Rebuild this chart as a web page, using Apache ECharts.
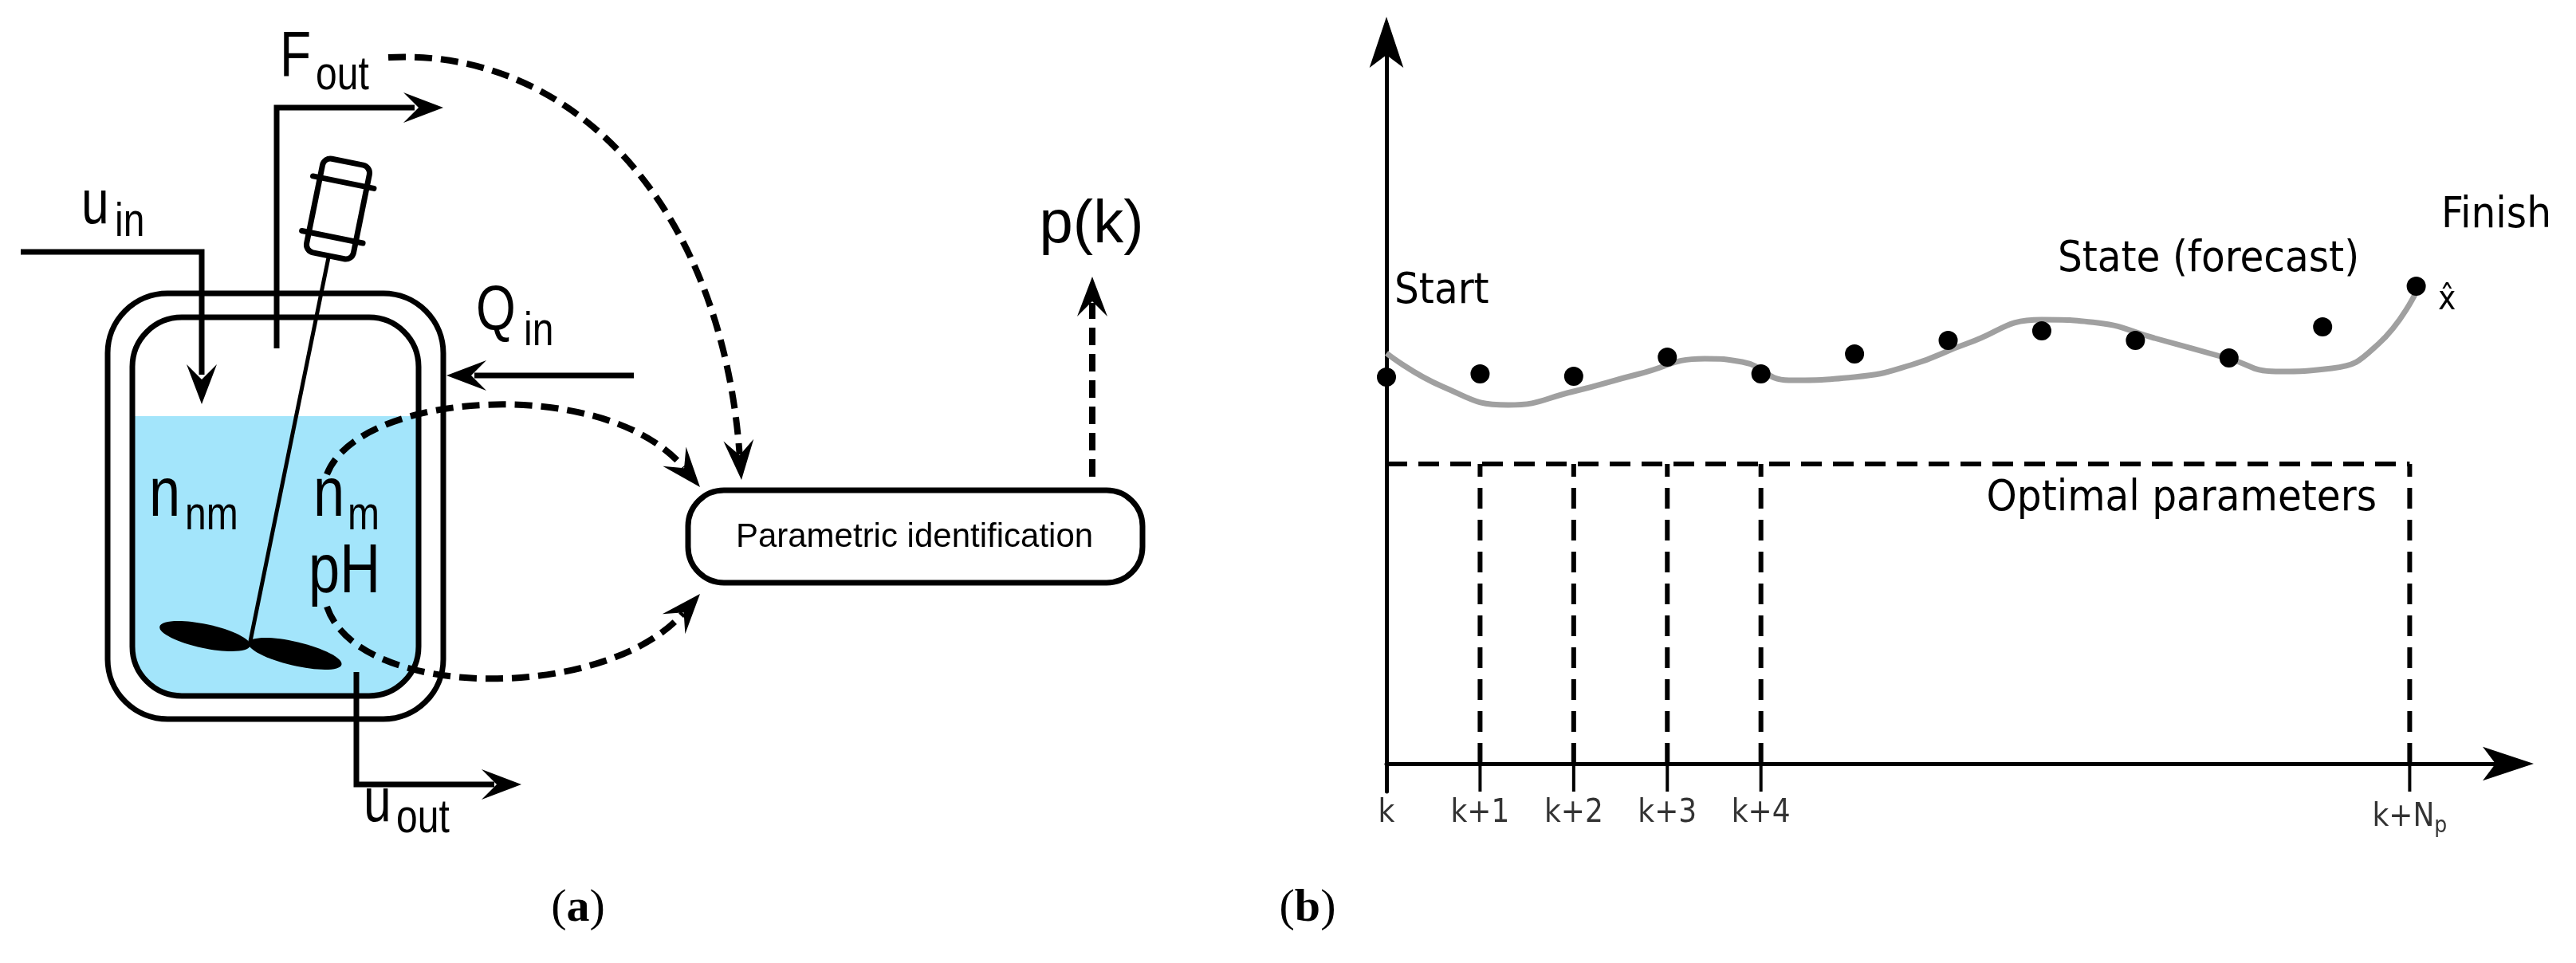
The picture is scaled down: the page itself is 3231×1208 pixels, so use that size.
<!DOCTYPE html>
<html><head><meta charset="utf-8">
<script src="https://cdn.jsdelivr.net/npm/echarts@6/dist/echarts.min.js"></script>
<style>html,body{margin:0;padding:0;background:#fff}#c{width:3231px;height:1208px}</style>
</head><body><div id="c"></div>
<script>
// ---- panel (b) data ----
const tickPos = [0, 1, 2, 3, 4, 10.93];
const tickLabels = ['k', 'k+1', 'k+2', 'k+3', 'k+4', 'k+N_p'];
const dotX = [0, 1, 2, 3, 4, 5, 6, 7, 8, 9, 10, 11];
const dotY = [485, 489, 486, 510, 489, 514, 531, 543, 531, 509, 548, 599];
const curveX = [0, 0.6, 1.3, 2, 2.7, 3.4, 3.8, 4.3, 5, 5.6, 6.2, 7.0, 7.6, 8.2, 9, 9.5, 10.1, 10.6, 11];
const curveY = [515, 473, 450, 467, 489, 508, 504, 481, 485, 500, 527, 557, 553, 534, 508, 492, 496, 527, 592];
const paramLevel = 376;
const tickLen = 35;

const chart = echarts.init(document.getElementById('c'));
const series = [];
series.push({type:'line', data: curveX.map((x,i)=>[x,curveY[i]]), smooth:0.5, symbol:'none',
  lineStyle:{color:'#a0a0a0', width:7}, z:2});
series.push({type:'scatter', data: dotX.map((x,i)=>[x,dotY[i]]), symbolSize:24, itemStyle:{color:'#000', opacity:1}, z:3});
series.push({type:'line', data:[[0,paramLevel],[tickPos[tickPos.length-1],paramLevel]], symbol:'none',
  lineStyle:{color:'#000', width:6, type:[26,14]}});
tickPos.forEach((x,i)=>{
  if(i>0) series.push({type:'line', data:[[x,0],[x,paramLevel]], symbol:'none', lineStyle:{color:'#000', width:6, type:[26,14]}});
  series.push({type:'line', data:[[x,0],[x,-tickLen]], symbol:'none', lineStyle:{color:'#000', width:4}});
});
series.push({type:'scatter', symbolSize:0, data: tickPos.map((x,i)=>({value:[x,-tickLen], name:tickLabels[i]})),
  label:{show:true, position:'bottom', distance:8, formatter:p=>{const s=p.name.split('_'); return s.length>1? s[0]+'{s|'+s[1]+'}' : s[0];},
    fontFamily:'DejaVu Sans Condensed', fontSize:40, color:'#000',
    rich:{s:{fontFamily:'DejaVu Sans Condensed', fontSize:28, color:'#000', padding:[22,0,0,0]}}}});

// ---- panel (a) graphics ----
const LW = 7;
function arrow(tx,ty,ang){
  const L=50, W=19, dx=Math.cos(ang), dy=Math.sin(ang), nx=-dy, ny=dx;
  return {type:'polygon', shape:{points:[[tx,ty],[tx-L*dx+W*nx,ty-L*dy+W*ny],[tx-0.62*L*dx,ty-0.62*L*dy],[tx-L*dx-W*nx,ty-L*dy-W*ny]]},
    style:{fill:'#000'}, z:10};
}
function pline(pts,dash){return {type:'polyline', shape:{points:pts}, style:{stroke:'#000', lineWidth:dash?8:LW, fill:null, lineDash:dash?[22,11]:null, lineJoin:'miter'}, z:9};}
function txt(s,x,base,size,fam,align,sx){return {type:'text', x:x, y:base-0.35*size, scaleX:sx||1, style:{text:s, font:size+'px "'+(fam||'Liberation Sans')+'"', fill:'#000', align:align||'left', verticalAlign:'middle'}, z:12};}
function ntxt(s,x,base,size){return txt(s,x,base,size,'Liberation Sans','left',0.8);}
function bez(x1,y1,c1x,c1y,c2x,c2y,x2,y2){
  const a = Math.atan2(y2-c2y, x2-c2x);
  return [{type:'bezierCurve', shape:{x1,y1,cpx1:c1x,cpy1:c1y,cpx2:c2x,cpy2:c2y,x2:x2-32*Math.cos(a),y2:y2-32*Math.sin(a)},
    style:{stroke:'#000', lineWidth:8, lineDash:[22,11], fill:null}, z:9}, arrow(x2,y2,a)];
}
const g = [];
g.push({type:'rect', shape:{x:166,y:522,width:359,height:351,r:[0,0,62,62]}, style:{fill:'#a3e5fb'}, z:1});
g.push({type:'rect', shape:{x:135,y:368,width:421,height:534,r:75}, style:{stroke:'#000', lineWidth:LW, fill:null}, z:5});
g.push({type:'rect', shape:{x:166,y:398,width:359,height:475,r:62}, style:{stroke:'#000', lineWidth:LW, fill:null}, z:5});
g.push(pline([[26,316],[253,316],[253,470]])); g.push(arrow(253,507,Math.PI/2));
g.push(pline([[347,437],[347,135],[520,135]])); g.push(arrow(556,135,0));
g.push(pline([[795,471],[595,471]])); g.push(arrow(560,471,Math.PI));
g.push(pline([[447,843],[447,984],[620,984]])); g.push(arrow(654,984,0));
g.push(pline([[1370,598],[1370,380]],true)); g.push(arrow(1370,347,-Math.PI/2));
g.push({type:'group', x:424, y:262, rotation:-0.2, z:8, children:[
  {type:'rect', shape:{x:-30,y:-60,width:60,height:120,r:10}, style:{stroke:'#000', lineWidth:LW, fill:'#fff'}},
  {type:'line', shape:{x1:-39,y1:-34,x2:39,y2:-34}, style:{stroke:'#000', lineWidth:LW, lineCap:'round'}},
  {type:'line', shape:{x1:-39,y1:36,x2:39,y2:36}, style:{stroke:'#000', lineWidth:LW, lineCap:'round'}}
]});
g.push({type:'line', shape:{x1:412,y1:323,x2:313,y2:809}, style:{stroke:'#000', lineWidth:5}, z:7});
g.push({type:'ellipse', x:257, y:798, rotation:-0.21, shape:{cx:0,cy:0,rx:58,ry:15}, style:{fill:'#000'}, z:7});
g.push({type:'ellipse', x:370, y:820, rotation:-0.23, shape:{cx:0,cy:0,rx:60,ry:15}, style:{fill:'#000'}, z:7});
g.push({type:'rect', shape:{x:863,y:615,width:570,height:116,r:45}, style:{stroke:'#000', lineWidth:LW, fill:'#fff'}, z:5});
g.push(txt('Parametric identification',1147,689,42,'Liberation Sans','center'));
bez(487,72, 720,60, 905,260, 930,602).forEach(e=>g.push(e));
bez(410,595, 450,490, 760,470, 878,611).forEach(e=>g.push(e));
bez(410,761, 450,880, 760,880, 878,745).forEach(e=>g.push(e));
g.push(ntxt('u',102,286,78)); g.push(ntxt('in',144,300,60));
g.push(ntxt('F',351,101,80)); g.push(ntxt('out',396,116,60));
g.push(ntxt('Q',597,420,80)); g.push(ntxt('in',657,437,60));
g.push(ntxt('u',456,1036,78)); g.push(ntxt('out',497,1048,60));
g.push(ntxt('n',187,654,88)); g.push(ntxt('nm',232,668,60));
g.push(ntxt('n',393,654,88)); g.push(ntxt('m',436,668,60));
g.push(ntxt('pH',387,750,88));
g.push(txt('p(k)',1369,310,76,'Liberation Sans','center'));
g.push({type:'text', x:725, y:1140, style:{text:'({b|a})', font:'58px "Liberation Serif"', fill:'#000', align:'center', verticalAlign:'middle', rich:{b:{fontFamily:'Liberation Serif', fontWeight:'bold', fontSize:58}}}, z:12});
g.push(txt('Start',1749,385,54,'DejaVu Sans Condensed'));
g.push(txt('State (forecast)',2770,345,54,'DejaVu Sans Condensed','center'));
g.push(txt('Finish',3062,290,54,'DejaVu Sans Condensed'));
g.push(txt('x̂',3058,392,42,'DejaVu Sans Condensed'));
g.push(txt('Optimal parameters',2981,645,54,'DejaVu Sans Condensed','right'));
g.push({type:'text', x:1640, y:1140, style:{text:'({b|b})', font:'58px "Liberation Serif"', fill:'#000', align:'center', verticalAlign:'middle', rich:{b:{fontFamily:'Liberation Serif', fontWeight:'bold', fontSize:58}}}, z:12});

chart.setOption({
  animation:false,
  grid:{left:1739, right:63, top:31, bottom:1208-958-tickLen},
  xAxis:{type:'value', min:0, max:12.17, axisLine:{onZero:true, lineStyle:{color:'#000', width:5}, symbol:['none','arrow'], symbolSize:[32,64], symbolOffset:[0,10]},
    axisTick:{show:false}, axisLabel:{show:false}, splitLine:{show:false}},
  yAxis:{type:'value', min:-tickLen, max:927, axisLine:{show:true, lineStyle:{color:'#000', width:5}, symbol:['none','arrow'], symbolSize:[32,64], symbolOffset:[0,10]},
    axisTick:{show:false}, axisLabel:{show:false}, splitLine:{show:false}},
  series: series,
  graphic: g
});
</script></body></html>
